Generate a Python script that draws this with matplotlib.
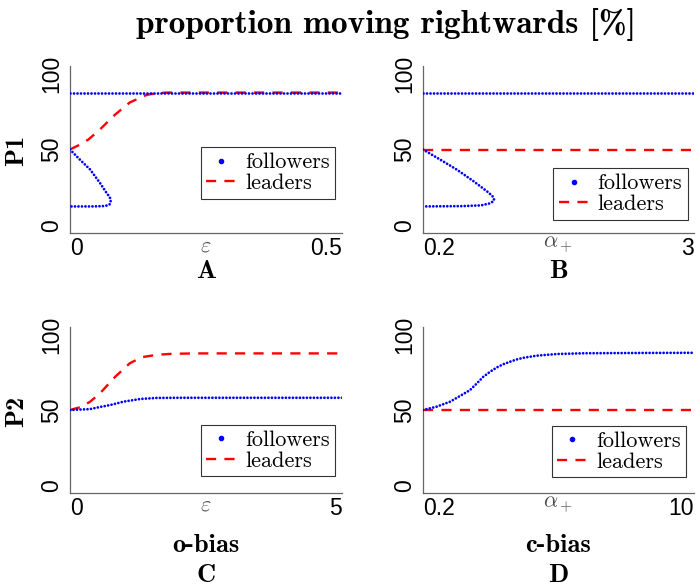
import matplotlib
matplotlib.use("Agg")
import matplotlib.pyplot as plt
from matplotlib.lines import Line2D

plt.rcParams['mathtext.fontset'] = 'cm'
plt.rcParams['font.family'] = ['Liberation Sans', 'DejaVu Sans']

# ---------------- data ----------------
# Panel A : P1, o-bias, x = epsilon
A_fol_top_x = [0.0, 0.5]
A_fol_top_y = [87.5, 87.5]
A_fol_br_x = [0.0, 0.018, 0.037, 0.055, 0.067, 0.073, 0.075, 0.074, 0.070, 0.060, 0.040, 0.0]
A_fol_br_y = [50.0, 43.4, 36.8, 28.0, 21.5, 18.6, 16.8, 14.2, 13.2, 12.7, 12.5, 12.5]
A_lead_x = [0.0, 0.017, 0.034, 0.055, 0.083, 0.110, 0.141, 0.160, 0.178, 0.20, 0.5]
A_lead_y = [50.0, 53.0, 56.6, 63.2, 73.0, 81.0, 86.0, 87.1, 87.5, 87.5, 87.5]

# Panel B : P1, c-bias, x = alpha_+
B_fol_top_x = [0.2, 3.0]
B_fol_top_y = [87.5, 87.5]
B_fol_br_x = [0.2, 0.376, 0.548, 0.72, 0.858, 0.915, 0.934, 0.930, 0.890, 0.80, 0.60, 0.2]
B_fol_br_y = [50.0, 43.4, 36.8, 29.2, 22.6, 19.5, 17.5, 16.0, 14.5, 13.2, 12.7, 12.5]
B_lead_x = [0.2, 3.0]
B_lead_y = [50.0, 50.0]

# Panel C : P2, o-bias, x = epsilon
C_fol_x = [0.0, 0.37, 0.55, 0.74, 0.98, 1.29, 1.59, 2.0, 5.0]
C_fol_y = [50.0, 50.6, 52.0, 53.3, 55.5, 57.3, 58.0, 58.1, 58.1]
C_lead_x = [0.0, 0.2, 0.37, 0.55, 0.83, 1.10, 1.32, 1.60, 1.9, 2.4, 5.0]
C_lead_y = [50.0, 52.0, 55.5, 61.0, 72.0, 81.0, 85.0, 86.6, 87.3, 87.5, 87.5]

# Panel D : P2, c-bias, x = alpha_+
D_fol_x = [0.2, 0.69, 1.18, 1.66, 1.90, 2.14, 2.38, 2.63, 2.87, 3.10, 3.35, 3.59,
           3.83, 4.31, 5.04, 6.0, 8.0, 10.0]
D_fol_y = [50.0, 52.2, 55.5, 60.6, 63.2, 67.5, 72.0, 75.4, 78.2, 80.3, 82.0, 83.5,
           84.6, 86.0, 87.1, 87.6, 87.8, 87.9]
D_lead_x = [0.2, 10.0]
D_lead_y = [50.0, 50.0]

yticks = [0, 50, 100]
ytick_labels = ['0', '50', '100']
xlims = {'A': (0, 0.5), 'B': (0.2, 3), 'C': (0, 5), 'D': (0.2, 10)}
xtick_labels = {'A': ['0', '0.5'], 'B': ['0.2', '3'], 'C': ['0', '5'], 'D': ['0.2', '10']}
xvar = {'A': r'$\varepsilon$', 'B': r'$\alpha_+$', 'C': r'$\varepsilon$', 'D': r'$\alpha_+$'}
legend_labels = ['followers', 'leaders']
title = 'proportion moving rightwards [%]'

# ---------------- styling ----------------
BLUE = '#0000ff'
RED = '#ff0000'
dot_style = dict(color=BLUE, lw=2.0, linestyle=(0, (0.01, 1.25)), dash_capstyle='round')
dash_style = dict(color=RED, lw=1.7, linestyle=(0, (4.3, 3.5)))
SERIF = 'cmr10'
BOLD = 'cmb10'

fig = plt.figure(figsize=(7, 5.87), dpi=100)
W, H = 700, 587


def ax_rect(l, t, r, b):
    return [l / W, 1 - b / H, (r - l) / W, (b - t) / H]


axes = {
    'A': fig.add_axes(ax_rect(70, 66, 342, 233)),
    'B': fig.add_axes(ax_rect(423, 66, 694, 233)),
    'C': fig.add_axes(ax_rect(70, 327, 342, 493)),
    'D': fig.add_axes(ax_rect(423, 327, 694, 493)),
}

data = {
    'A': ([(A_fol_top_x, A_fol_top_y), (A_fol_br_x, A_fol_br_y)], (A_lead_x, A_lead_y)),
    'B': ([(B_fol_top_x, B_fol_top_y), (B_fol_br_x, B_fol_br_y)], (B_lead_x, B_lead_y)),
    'C': ([(C_fol_x, C_fol_y)], (C_lead_x, C_lead_y)),
    'D': ([(D_fol_x, D_fol_y)], (D_lead_x, D_lead_y)),
}
legend_centers = {'A': (0.728, 0.359), 'B': (0.729, 0.234), 'C': (0.728, 0.256), 'D': (0.723, 0.25)}

for key, ax in axes.items():
    fol, lead = data[key]
    ax.plot(lead[0], lead[1], **dash_style, zorder=2)
    for fx, fy in fol:
        ax.plot(fx, fy, **dot_style, zorder=3)
    ax.set_xlim(*xlims[key])
    ax.set_ylim(-5, 105)
    ax.set_xticks(list(xlims[key]))
    ax.set_xticklabels(xtick_labels[key])
    tl = ax.get_xticklabels()
    tl[0].set_ha('left')
    tl[1].set_ha('right')
    ax.set_yticks(yticks)
    ax.set_yticklabels(ytick_labels, rotation=90, va='center')
    ax.tick_params(length=0, labelsize=16.5, colors='black')
    ax.tick_params(axis='x', pad=3)
    ax.tick_params(axis='y', pad=5)
    for s in ['top', 'right']:
        ax.spines[s].set_visible(False)
    for s in ['left', 'bottom']:
        ax.spines[s].set_color('0.4')
        ax.spines[s].set_linewidth(0.9)
    ax.set_xlabel(xvar[key], fontsize=16, color='0.3', va='center')
    ax.xaxis.set_label_coords(0.5, -0.075)
    handles = [Line2D([0], [0], color=BLUE, marker='.', ls='none', markersize=6),
               Line2D([0], [0], **dash_style)]
    leg = ax.legend(handles, legend_labels, loc='center', bbox_to_anchor=legend_centers[key],
                    prop={'family': SERIF, 'size': 16}, frameon=True, fancybox=False,
                    borderpad=0.25, handlelength=1.35, handletextpad=0.4, labelspacing=0.05,
                    borderaxespad=0)
    leg.get_frame().set_edgecolor('black')
    leg.get_frame().set_linewidth(0.8)

fig.text(386 / W, 1 - 24 / H, title, ha='center', va='center', family=BOLD, fontsize=24)
fig.text(17 / W, 1 - 150 / H, 'P1', ha='center', va='center', rotation=90, family=BOLD, fontsize=19)
fig.text(17 / W, 1 - 411 / H, 'P2', ha='center', va='center', rotation=90, family=BOLD, fontsize=19)
fig.text(206 / W, 1 - 272 / H, 'A', ha='center', va='center', family=BOLD, fontsize=19)
fig.text(558 / W, 1 - 272 / H, 'B', ha='center', va='center', family=BOLD, fontsize=19)
fig.text(206 / W, 1 - 545 / H, 'o-bias', ha='center', va='center', family=BOLD, fontsize=19)
fig.text(558 / W, 1 - 545 / H, 'c-bias', ha='center', va='center', family=BOLD, fontsize=19)
fig.text(206 / W, 1 - 575 / H, 'C', ha='center', va='center', family=BOLD, fontsize=19)
fig.text(558 / W, 1 - 575 / H, 'D', ha='center', va='center', family=BOLD, fontsize=19)

fig.savefig('out.png', dpi=100)
